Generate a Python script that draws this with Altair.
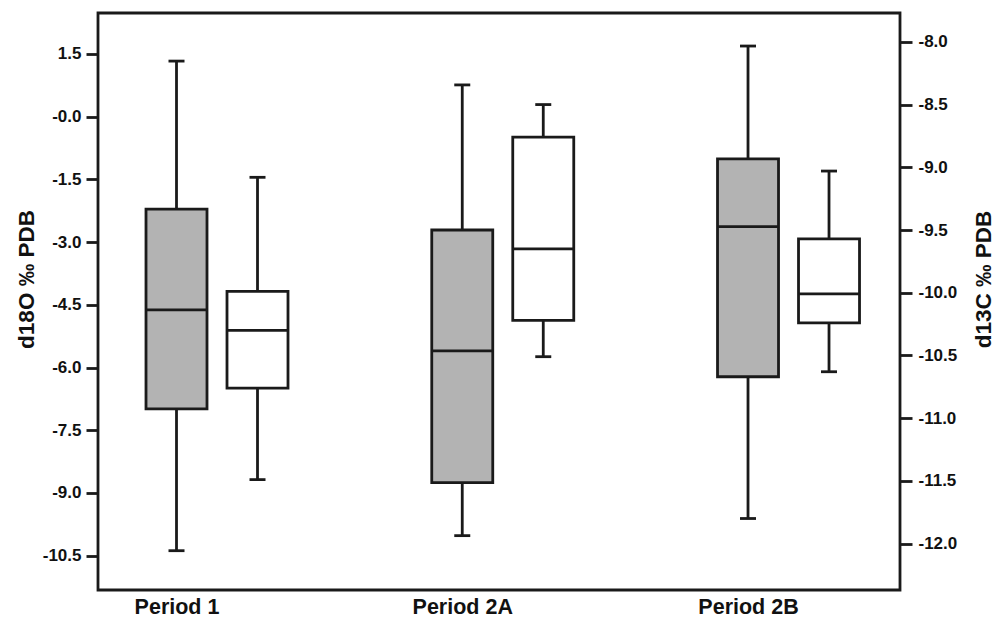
import altair as alt
import pandas as pd

periods = ["Period 1", "Period 2A", "Period 2B"]

# d18O (grey boxes, left axis)
d18o_min = [-10.38, -10.02, -9.61]
d18o_q1 = [-6.99, -8.75, -6.22]
d18o_med = [-4.62, -5.60, -2.63]
d18o_q3 = [-2.21, -2.71, -1.01]
d18o_max = [1.33, 0.76, 1.69]

# d13C (white boxes, right axis)
d13c_min = [-11.49, -10.51, -10.63]
d13c_q1 = [-10.76, -10.22, -10.24]
d13c_med = [-10.30, -9.65, -10.01]
d13c_q3 = [-9.99, -8.76, -9.57]
d13c_max = [-9.08, -8.50, -9.03]

left_ticks = [1.5, 0.0, -1.5, -3.0, -4.5, -6.0, -7.5, -9.0, -10.5]
right_ticks = [-8.0, -8.5, -9.0, -9.5, -10.0, -10.5, -11.0, -11.5, -12.0]

o18 = pd.DataFrame({"period": periods, "min": d18o_min, "q1": d18o_q1,
                    "med": d18o_med, "q3": d18o_q3, "max": d18o_max})
c13 = pd.DataFrame({"period": periods, "min": d13c_min, "q1": d13c_q1,
                    "med": d13c_med, "q3": d13c_q3, "max": d13c_max})

FONT = "Liberation Sans"
INK = "#1a1a1a"
SW = 2.8

xscale = alt.Scale(type="point", padding=0.4033, align=0.3406)
xaxis = alt.Axis(title=None, labelAngle=0, ticks=False, domain=False,
                 labelPadding=6, labelFontSize=21.5, labelFont=FONT,
                 labelFontWeight="bold", labelColor="#111111")

label_expr = "datum.value === 0 ? '-0.0' : (datum.value % 1 === 0 ? datum.value + '.0' : datum.value + '')"


def box_layer(df, fill, yscale, yaxis, xoff):
    base = alt.Chart(df)
    x = alt.X("period:N", sort=periods, scale=xscale, axis=xaxis)

    def y(field):
        return alt.Y(field, type="quantitative", scale=yscale, axis=yaxis)

    rule = base.mark_rule(color=INK, strokeWidth=SW, xOffset=xoff).encode(
        x=x, y=y("min"), y2="max:Q")
    bar = base.mark_bar(fill=fill, stroke=INK, strokeWidth=SW, size=61,
                        xOffset=xoff).encode(x=x, y=y("q1"), y2="q3:Q")
    med = base.mark_tick(orient="horizontal", size=61, thickness=SW, color=INK,
                         opacity=1, xOffset=xoff).encode(x=x, y=y("med"))
    cap_lo = base.mark_tick(orient="horizontal", size=16, thickness=SW, color=INK,
                            opacity=1, xOffset=xoff).encode(x=x, y=y("min"))
    cap_hi = base.mark_tick(orient="horizontal", size=16, thickness=SW, color=INK,
                            opacity=1, xOffset=xoff).encode(x=x, y=y("max"))
    return alt.layer(rule, bar, med, cap_lo, cap_hi)


left_axis = alt.Axis(orient="left", title="d18O ‰ PDB", values=left_ticks,
                     labelExpr=label_expr, tickSize=12, labelPadding=5,
                     titleAngle=270, titleX=-72, titleY=266, titleAlign="center",
                     titleBaseline="middle", grid=False)
right_axis = alt.Axis(orient="right", title="d13C ‰ PDB", values=right_ticks,
                      labelExpr=label_expr, tickSize=12, labelPadding=6,
                      titleAngle=270, titleX=83, titleY=266, titleAlign="center",
                      titleBaseline="middle", grid=False)

grey = box_layer(o18, "#b3b3b3", alt.Scale(domain=[-11.32, 2.48], nice=False, zero=False),
                 left_axis, 0)
white = box_layer(c13, "#ffffff", alt.Scale(domain=[-12.37, -7.77], nice=False, zero=False),
                  right_axis, 81)

chart = (
    alt.layer(grey, white)
    .resolve_scale(y="independent")
    .properties(width=802, height=577,
                autosize=alt.AutoSizeParams(type="none"),
                padding={"left": 90, "top": 5, "right": 95, "bottom": 33},
                background="white")
    .configure_view(stroke=INK, strokeWidth=SW)
    .configure_axis(domain=False, tickColor=INK, tickWidth=SW,
                    labelFont=FONT, labelFontWeight="bold", labelFontSize=17,
                    labelColor="#111111", titleFont=FONT, titleFontWeight="bold",
                    titleFontSize=22.5, titleColor="#111111")
)

chart.save("out.html", embed_options={"renderer": "svg", "actions": False})
